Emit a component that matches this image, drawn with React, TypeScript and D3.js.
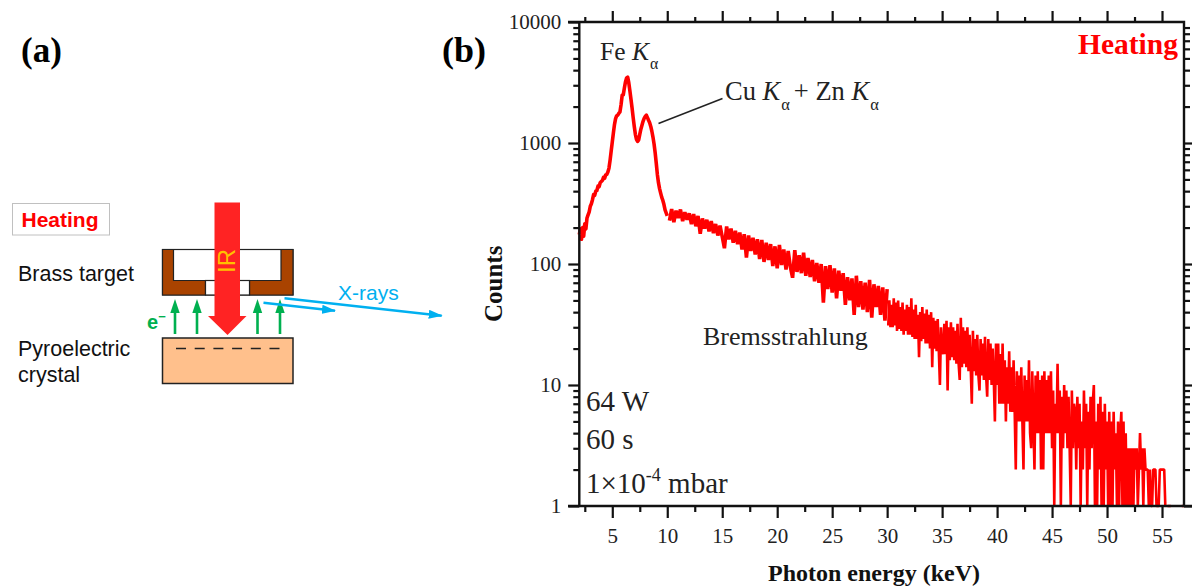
import React, { useEffect, useRef } from 'react';
import * as d3 from 'd3';

// x channel of the first value in each section, and channel width (keV)
const peakStart = 2.0;
const peakStep = 0.1;
const midStart = 10.2;
const midStep = 0.2;
const tailStart = 30.1;
const tailStep = 0.1;

// 2 - 10 keV, Fe and Cu/Zn lines
const peakCounts = [
  175, 195, 160, 200, 170, 215, 195, 240, 255, 270,
  300, 315, 340, 375, 370, 400, 405, 440, 435, 470,
  480, 490, 520, 510, 545, 550, 575, 620, 720, 860,
  1020, 1210, 1420, 1590, 1680, 1700, 1760, 1810, 2080, 2480,
  2500, 2850, 3200, 3450, 3500, 3150, 2700, 2300, 1950, 1620,
  1370, 1180, 1070, 1030, 1060, 1180, 1300, 1400, 1510, 1600,
  1660, 1700, 1620, 1540, 1470, 1370, 1250, 1120, 980, 830,
  680, 550, 470, 420, 385, 355, 335, 310, 280, 265,
  250,
];

// 10.2 - 30 keV, bremsstrahlung band
const midCounts = [
  228, 285, 222, 276, 240, 282, 226, 268, 232, 262,
  214, 258, 205, 250, 178, 238, 196, 232, 186, 226,
  180, 214, 172, 208, 168, 135, 204, 160, 196, 150,
  188, 146, 182, 132, 176, 113, 172, 128, 165, 120,
  160, 110, 158, 104, 150, 108, 146, 96, 140, 92,
  144, 98, 132, 90, 128, 94, 77, 130, 86, 118,
  84, 124, 80, 112, 78, 108, 72, 102, 70, 100,
  48, 96, 62, 98, 58, 92, 52, 88, 60, 84,
  46, 78, 50, 76, 38, 80, 44, 72, 42, 70,
  40, 74, 36, 68, 44, 66, 38, 64, 34, 62,
];

// 30.1 - 57 keV, one row per keV, 0 = no counts in the channel
const tailCounts = [
  31, 50, 30, 46, 30, 52, 31, 48, 28, 50,
  29, 44, 28, 48, 26, 42, 28, 46, 26, 44,
  26, 52, 25, 42, 24, 46, 24, 38, 17, 40,
  23, 44, 24, 39, 22, 42, 22, 38, 20, 40,
  14, 36, 20, 34, 19, 35, 19, 10, 30, 19,
  18, 32, 18, 34, 9, 30, 16, 33, 17, 30,
  16, 28, 15, 32, 15, 11, 36, 14, 30, 15,
  28, 14, 30, 13, 26, 14, 7, 28, 13, 24,
  12, 26, 12, 9, 24, 12, 22, 11, 25, 12,
  8, 24, 11, 22, 10, 20, 11, 5, 22, 10,
  22, 7, 18, 7, 22, 7, 16, 5, 14, 7,
  19, 6, 14, 6, 16, 6, 2, 13, 5, 12,
  5, 14, 5, 2, 12, 5, 11, 5, 16, 4,
  3, 13, 5, 2, 12, 4, 13, 4, 11, 2,
  12, 2, 13, 4, 11, 4, 12, 4, 13, 3,
  9, 1, 7, 4, 15, 4, 9, 1, 8, 3,
  10, 4, 9, 3, 8, 3, 1, 9, 3, 7,
  6, 2, 8, 3, 7, 1, 5, 2, 9, 3,
  7, 1, 6, 2, 8, 3, 7, 10, 1, 5,
  1, 7, 2, 8, 1, 6, 1, 7, 2, 5,
  1, 6, 1, 5, 1, 6, 2, 4, 1, 5,
  1, 4, 6, 1, 5, 1, 4, 1, 3, 1,
  3, 1, 3, 1, 3, 2, 3, 1, 2, 4,
  2, 3, 1, 3, 2, 2, 2, 1, 2, 1,
  1, 2, 2, 2, 1, 1, 1, 2, 2, 2,
  2, 2, 1, 0, 1, 1, 1, 1, 0, 0,
  0, 0, 0, 0, 0, 0, 0, 1, 1, 1,
];

const xMajor = [5, 10, 15, 20, 25, 30, 35, 40, 45, 50, 55];
const xMinor = [2.5, 7.5, 12.5, 17.5, 22.5, 27.5, 32.5, 37.5, 42.5, 47.5, 52.5];
const yMajor = [1, 10, 100, 1000, 10000];
const yMinor = [1, 10, 100, 1000].flatMap(d => [2, 3, 4, 5, 6, 7, 8, 9].map(m => m * d));

const serif = '"Liberation Serif", serif';
const sans = '"Liberation Sans", sans-serif';
const green = '#00b050';
const blue = '#00b0f0';

function Ka({ size }: { size: number }) {
  return (
    <>
      <tspan fontStyle="italic">K</tspan>
      <tspan fontSize={size * 0.62} dy={size * 0.36} dx={1}>α</tspan>
    </>
  );
}

function Schematic() {
  const electronX = [175, 197, 257.5, 280];
  return (
    <g fontFamily={sans}>
      <defs>
        <marker id="blueHead" markerUnits="userSpaceOnUse" markerWidth="14" markerHeight="9" refX="13" refY="4.5" orient="auto">
          <path d="M0,0L14,4.5L0,9Z" fill={blue} />
        </marker>
      </defs>
      <text x="21" y="62" fontFamily={serif} fontWeight="bold" fontSize="35">(a)</text>
      <rect x="12.5" y="203.5" width="97" height="31.5" fill="#fff" stroke="#c0c0c0" strokeWidth="1" />
      <text x="21.5" y="227" fontWeight="bold" fontSize="21" fill="#ff0000">Heating</text>
      <text x="18" y="281" fontSize="21.5" fill="#111">Brass target</text>
      <text x="18" y="356" fontSize="21.5" fill="#111">Pyroelectric</text>
      <text x="18" y="382" fontSize="21.5" fill="#111">crystal</text>

      <rect x="162.5" y="249.5" width="130.5" height="45.5" fill="#fff" stroke="#222" strokeWidth="1.2" />
      <path d="M162.5,249.5H173.5V280.5H281V249.5H293V295H249.5V280.5H205.5V295H162.5Z" fill="#a94300" stroke="#222" strokeWidth="1.2" />
      <rect x="205.5" y="280.5" width="44" height="14.5" fill="#fff" stroke="#222" strokeWidth="1.2" />
      <rect x="162.5" y="338" width="130.5" height="45.5" fill="#ffc08c" stroke="#222" strokeWidth="1.5" />
      <line x1="176" x2="280" y1="348.5" y2="348.5" stroke="#222" strokeWidth="1.3" strokeDasharray="10 8.7" />

      {electronX.map(x => (
        <g key={x} fill={green}>
          <rect x={x - 1.3} y="310" width="2.6" height="24" />
          <path d={`M${x},299L${x + 4.7},313H${x - 4.7}Z`} />
        </g>
      ))}
      <text x="147" y="329" fontWeight="bold" fontSize="20" fill={green}>e<tspan fontSize="13" dy="-8">−</tspan></text>

      <path d="M214.5,202.5H240V316H246.5L227.5,335L208,316H214.5Z" fill="#ff2323" />
      <text transform="translate(235,273) rotate(-90)" fontSize="24" fill="#ffc000">IR</text>

      <line x1="263.5" y1="302.7" x2="335" y2="310.7" stroke={blue} strokeWidth="2.5" markerEnd="url(#blueHead)" />
      <line x1="284.5" y1="298.3" x2="441.7" y2="315.7" stroke={blue} strokeWidth="2.5" markerEnd="url(#blueHead)" />
      <text x="338" y="299.5" fontSize="21" fill={blue}>X-rays</text>
    </g>
  );
}

export default function App() {
  const axesRef = useRef<SVGGElement>(null);

  const x = d3.scaleLinear().domain([2, 57]).range([579.3, 1184]);
  const y = d3.scaleLog().domain([1, 10000]).range([506, 22]);

  const line = d3.line<[number, number]>()
    .defined(d => d[1] > 0)
    .x(d => x(d[0]))
    .y(d => y(Math.max(d[1], 1)));

  const peakPoints = peakCounts.map((v, i) => [peakStart + i * peakStep, v] as [number, number]);
  const midPoints = midCounts.map((v, i) => [midStart + i * midStep, v] as [number, number]);
  const tailPoints = tailCounts.map((v, i) => [tailStart + i * tailStep, v] as [number, number]);

  useEffect(() => {
    const g = d3.select(axesRef.current);
    g.selectAll('*').remove();

    const place = (axis: d3.Axis<any>, dx: number, dy: number, labels: boolean) => {
      const a = g.append('g')
        .attr('transform', `translate(${dx},${dy})`)
        .call(axis);
      a.select('.domain').remove();
      a.selectAll('line').attr('stroke', '#111').attr('stroke-width', 2.2);
      a.selectAll('text')
        .attr('fill', '#222')
        .style('font-family', serif)
        .style('font-size', '21px');
      if (!labels) a.selectAll('text').remove();
    };

    place(d3.axisBottom(x).tickValues(xMajor).tickSize(12).tickPadding(10).tickFormat(d3.format('d') as any), 0, 506, true);
    place(d3.axisBottom(x).tickValues(xMinor).tickSize(6), 0, 506, false);
    place(d3.axisTop(x).tickValues(xMajor).tickSize(11), 0, 22, false);
    place(d3.axisTop(x).tickValues(xMinor).tickSize(5), 0, 22, false);
    place(d3.axisLeft(y).tickValues(yMajor).tickSize(11).tickPadding(7).tickFormat(d3.format('d') as any), 579.3, 0, true);
    place(d3.axisLeft(y).tickValues(yMinor).tickSize(6), 579.3, 0, false);
    place(d3.axisRight(y).tickValues(yMajor.slice(0, 4)).tickSize(11), 1184, 0, false);
    place(d3.axisRight(y).tickValues(yMinor).tickSize(6), 1184, 0, false);

    // the frame
    g.append('path')
      .attr('d', `M568,22H1184V506M579.3,22V506M568,506H1192`)
      .attr('fill', 'none')
      .attr('stroke', '#111')
      .attr('stroke-width', 2.4);
  }, []);

  return (
    <svg width="1192" height="587" style={{ position: 'absolute', left: 0, top: 0, background: '#fff' }}>
      <Schematic />

      <text x="442" y="62" fontFamily={serif} fontWeight="bold" fontSize="36">(b)</text>

      <path d={line(peakPoints) ?? ''} fill="none" stroke="#ff0000" strokeWidth="3.6" strokeLinejoin="round" />
      <path d={line(midPoints) ?? ''} fill="none" stroke="#ff0000" strokeWidth="3.6" strokeLinejoin="bevel" />
      <path d={line(tailPoints) ?? ''} fill="none" stroke="#ff0000" strokeWidth="2.6" strokeLinejoin="bevel" />

      <g ref={axesRef} />

      <g fontFamily={serif} fill="#222">
        <text x="600" y="60" fontSize="25.5">Fe <Ka size={25.5} /></text>
        <text x="725" y="100" fontSize="26.5">Cu <Ka size={26.5} /><tspan dy="-9.5" dx="4">+ Zn </tspan><Ka size={26.5} /></text>
        <line x1="658.5" y1="123.5" x2="722.5" y2="98.5" stroke="#222" strokeWidth="1.5" />
        <text x="703" y="345" fontSize="26">Bremsstrahlung</text>
        <text x="586" y="411" fontSize="29">64 W</text>
        <text x="586" y="449" fontSize="29">60 s</text>
        <text x="586" y="493" fontSize="29">1×10<tspan fontSize="18" dy="-12">-4</tspan><tspan dy="12"> mbar</tspan></text>
        <text x="1078" y="54" fontSize="29.5" fontWeight="bold" fill="#ff0000">Heating</text>
        <text x="768" y="581" fontSize="24" fontWeight="bold" fill="#111">Photon energy (keV)</text>
        <text transform="translate(502,322) rotate(-90)" fontSize="25" fontWeight="bold" fill="#111">Counts</text>
      </g>
    </svg>
  );
}
